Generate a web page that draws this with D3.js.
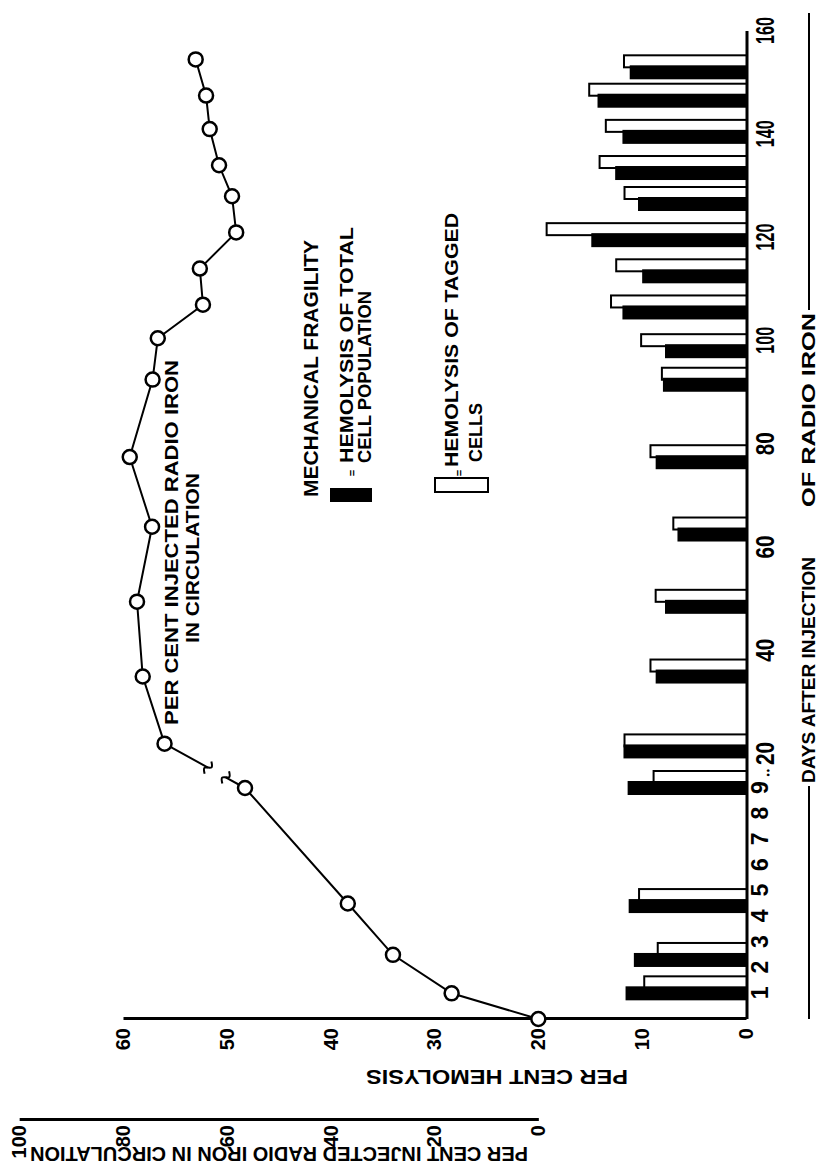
<!DOCTYPE html>
<html>
<head>
<meta charset="utf-8">
<script src="https://cdn.jsdelivr.net/npm/d3@7"></script>
<style>
  body { margin: 0; background: #fff; }
  svg { display: block; }
  text { font-family: "Liberation Sans", Arial, sans-serif; font-weight: bold; fill: #000; }
</style>
</head>
<body>
<svg id="canvas" width="819" height="1172"></svg>
<script>
// mechanical fragility bars (per cent hemolysis), one pair per sampling day
var barDays    = [1, 2.3, 4.4, 9, 20.5, 35, 48.5, 62.5, 76.5, 91.5, 98, 105.5, 112.5, 119.5, 126.5, 132.5, 139.5, 146.5, 152];
var totalHemo  = [11.6, 10.8, 11.3, 11.4, 11.8, 8.7, 7.8, 6.6, 8.7, 8.0, 7.8, 11.9, 10.0, 14.9, 10.4, 12.6, 11.9, 14.3, 11.2];
var taggedHemo = [9.8, 8.5, 10.3, 8.9, 11.7, 9.2, 8.7, 7.0, 9.2, 8.1, 10.1, 13.0, 12.5, 19.2, 11.7, 14.1, 13.5, 15.1, 11.75];

// per cent injected radio iron in circulation
var ironDays = [0, 1, 2.5, 4.5, 9, 22, 35, 49.5, 64, 77.5, 92.5, 100.5, 107, 114, 121, 128, 134, 141, 147.5, 154.5];
var ironPct  = [0, 16.7, 28, 36.7, 56.5, 72, 76.2, 77.3, 74.4, 78.7, 74.3, 73.3, 64.6, 65.2, 58.2, 59, 61.5, 63.3, 64, 66];

// tick labels
var earlyTicks = [1, 2, 3, 4, 5, 6, 7, 8, 9];
var lateTicks  = [20, 40, 60, 80, 100, 120, 140, 160];
var hemoTicks  = [0, 10, 20, 30, 40, 50, 60];
var ironTicks  = [0, 20, 40, 60, 80, 100];

const AXIS_Y = 747;

// the day axis is stretched for days 0-9, then broken and linear 20-160
var xEarly = d3.scaleLinear().domain([0, 9]).range([153, 384]);
var xLate  = d3.scaleLinear().domain([20, 160]).range([418, 1141]);
function dayX(d){
    return d <= 9 ? xEarly(d) : xLate(d);
}
var yHemo = d3.scaleLinear().domain([0, 60]).range([746, 123]);
// radio iron axis: 0 sits on hemolysis 20, 2 units per hemolysis unit
var yIron = d3.scaleLinear().domain([0, 100]).range([yHemo(20), yHemo(70)]);

var svg = d3.select("#canvas");
svg.append("rect").attr("width", 819).attr("height", 1172).attr("fill", "#fff");

// chart is laid out landscape and turned a quarter turn, like the printed page
var g = svg.append("g").attr("transform", "translate(0,1172) rotate(-90)");

// bars
var bars = [];
for (var i = 0; i < barDays.length; i++){
    bars.push({day: barDays[i], total: totalHemo[i], tagged: taggedHemo[i]});
}
g.selectAll(".tagged").data(bars).enter().append("rect")
    .attr("class", "tagged")
    .attr("x", function(d){ return dayX(d.day) + 5; })
    .attr("width", 12)
    .attr("y", function(d){ return yHemo(d.tagged); })
    .attr("height", function(d){ return AXIS_Y - yHemo(d.tagged); })
    .attr("fill", "#fff").attr("stroke", "#000").attr("stroke-width", 2);
g.selectAll(".total").data(bars).enter().append("rect")
    .attr("class", "total")
    .attr("x", function(d){ return dayX(d.day) - 7; })
    .attr("width", 14)
    .attr("y", function(d){ return yHemo(d.total); })
    .attr("height", function(d){ return AXIS_Y - yHemo(d.total); })
    .attr("fill", "#000");

// day axis
g.append("line")
    .attr("x1", dayX(0)).attr("x2", xLate(160))
    .attr("y1", AXIS_Y).attr("y2", AXIS_Y)
    .attr("stroke", "#000").attr("stroke-width", 3);

var ea = g.append("g").attr("transform", "translate(0," + AXIS_Y + ")")
    .call(d3.axisBottom(xEarly).tickValues(earlyTicks).tickSize(0).tickPadding(5));
ea.select(".domain").remove();
ea.selectAll("text").style("font-size", "23px");

var la = g.append("g").attr("transform", "translate(0," + AXIS_Y + ")")
    .call(d3.axisBottom(xLate).tickValues(lateTicks).tickSize(0).tickPadding(9));
la.select(".domain").remove();
la.selectAll("text")
    .style("font-size", "25px")
    .attr("textLength", function(d){ return String(d).length === 3 ? 27 : 23; })
    .attr("lengthAdjust", "spacingAndGlyphs");

g.append("text")
    .attr("x", (xEarly(9) + xLate(20)) / 2 - 1).attr("y", AXIS_Y + 22)
    .attr("text-anchor", "middle").style("font-size", "16px")
    .text("\u2025");

// day axis title with its rules
g.append("line").attr("x1", dayX(0)).attr("x2", 386).attr("y1", 809).attr("y2", 809)
    .attr("stroke", "#000").attr("stroke-width", 2);
g.append("line").attr("x1", 862).attr("x2", 1159).attr("y1", 809).attr("y2", 809)
    .attr("stroke", "#000").attr("stroke-width", 2);
g.append("text").attr("x", 389).attr("y", 815).style("font-size", "19px")
    .attr("textLength", 226).attr("lengthAdjust", "spacingAndGlyphs")
    .text("DAYS AFTER INJECTION");
g.append("text").attr("x", 665).attr("y", 815).style("font-size", "19px")
    .attr("textLength", 194).attr("lengthAdjust", "spacingAndGlyphs")
    .text("OF RADIO IRON");

// hemolysis axis
var ha = g.append("g").attr("transform", "translate(153,0)")
    .call(d3.axisLeft(yHemo).tickValues(hemoTicks).tickSize(0).tickPadding(9));
ha.select(".domain").attr("stroke-width", 3);
ha.selectAll("text").style("font-size", "20px");

g.append("text")
    .attr("transform", "translate(102,497) rotate(-90)")
    .attr("text-anchor", "middle").style("font-size", "20px")
    .attr("textLength", 262).attr("lengthAdjust", "spacingAndGlyphs")
    .text("PER CENT HEMOLYSIS");

// radio iron axis
var ra = g.append("g").attr("transform", "translate(52,0)")
    .call(d3.axisLeft(yIron).tickValues(ironTicks).tickSize(0).tickPadding(5));
ra.select(".domain").attr("stroke-width", 3);
ra.selectAll("text").style("font-size", "20px");

g.append("text")
    .attr("transform", "translate(25,279) rotate(-90)")
    .attr("text-anchor", "middle").style("font-size", "21px")
    .attr("textLength", 498).attr("lengthAdjust", "spacingAndGlyphs")
    .text("PER CENT INJECTED RADIO IRON IN CIRCULATION");

// radio iron curve
var pts = [];
for (i = 0; i < ironDays.length; i++){
    pts.push({day: ironDays[i], pct: ironPct[i]});
}
var before = pts.filter(function(p){ return p.day <= 9; });
var after = pts.filter(function(p){ return p.day >= 20; });
var line = d3.line()
    .x(function(p){ return dayX(p.day); })
    .y(function(p){ return yIron(p.pct); });

g.append("path").attr("d", line(before))
    .attr("fill", "none").attr("stroke", "#000").attr("stroke-width", 2);
g.append("path").attr("d", line(after))
    .attr("fill", "none").attr("stroke", "#000").attr("stroke-width", 2);

// the broken segment across the axis break
var a = before[before.length - 1], b = after[0];
var ax = dayX(a.day), ay = yIron(a.pct), bx = dayX(b.day), by = yIron(b.pct);
var len = Math.hypot(bx - ax, by - ay);
var tx = (bx - ax) / len, ty = (by - ay) / len;
var nx = -ty, ny = tx;
function along(t){ return [ax + (bx - ax) * t, ay + (by - ay) * t]; }
var gapA = along(0.24), gapB = along(0.46);
g.append("path").attr("d", d3.line()([[ax, ay], gapA]))
    .attr("fill", "none").attr("stroke", "#000").attr("stroke-width", 2);
g.append("path").attr("d", d3.line()([gapB, [bx, by]]))
    .attr("fill", "none").attr("stroke", "#000").attr("stroke-width", 2);
[gapA, gapB].forEach(function(p){
    var z = [
        [p[0] - nx * 7, p[1] - ny * 7],
        [p[0] - nx * 2 + tx * 3, p[1] - ny * 2 + ty * 3],
        [p[0] + nx * 2 - tx * 3, p[1] + ny * 2 - ty * 3],
        [p[0] + nx * 7, p[1] + ny * 7]
    ];
    g.append("path").attr("d", d3.line().curve(d3.curveCatmullRom)(z))
        .attr("fill", "none").attr("stroke", "#000").attr("stroke-width", 2);
});

g.selectAll(".dot").data(pts).enter().append("circle")
    .attr("class", "dot")
    .attr("cx", function(p){ return dayX(p.day); })
    .attr("cy", function(p){ return yIron(p.pct); })
    .attr("r", 7)
    .attr("fill", "#fff").attr("stroke", "#000").attr("stroke-width", 2.5);

// curve label
g.append("text").attr("x", 447).attr("y", 178).style("font-size", "18px")
    .attr("textLength", 365).attr("lengthAdjust", "spacingAndGlyphs")
    .text("PER CENT INJECTED RADIO IRON");
g.append("text").attr("x", 529).attr("y", 199).style("font-size", "19px")
    .attr("textLength", 170).attr("lengthAdjust", "spacingAndGlyphs")
    .text("IN CIRCULATION");

// legend
g.append("text").attr("x", 675).attr("y", 318).style("font-size", "21px")
    .attr("textLength", 257).attr("lengthAdjust", "spacingAndGlyphs")
    .text("MECHANICAL FRAGILITY");

g.append("rect").attr("x", 670).attr("y", 330).attr("width", 14).attr("height", 42)
    .attr("fill", "#000");
g.append("text").attr("x", 699).attr("y", 356).attr("text-anchor", "middle")
    .style("font-size", "11px").text("=");
g.append("text").attr("x", 709).attr("y", 353).style("font-size", "19px")
    .attr("textLength", 236).attr("lengthAdjust", "spacingAndGlyphs")
    .text("HEMOLYSIS OF TOTAL");
g.append("text").attr("x", 709).attr("y", 371).style("font-size", "19px")
    .attr("textLength", 172).attr("lengthAdjust", "spacingAndGlyphs")
    .text("CELL POPULATION");

g.append("rect").attr("x", 680).attr("y", 435).attr("width", 14).attr("height", 53)
    .attr("fill", "#fff").attr("stroke", "#000").attr("stroke-width", 2);
g.append("text").attr("x", 699).attr("y", 463).attr("text-anchor", "middle")
    .style("font-size", "11px").text("=");
g.append("text").attr("x", 705).attr("y", 458).style("font-size", "19px")
    .attr("textLength", 254).attr("lengthAdjust", "spacingAndGlyphs")
    .text("HEMOLYSIS OF TAGGED");
g.append("text").attr("x", 710).attr("y", 482).style("font-size", "19px")
    .attr("textLength", 59).attr("lengthAdjust", "spacingAndGlyphs")
    .text("CELLS");
</script>
</body>
</html>
